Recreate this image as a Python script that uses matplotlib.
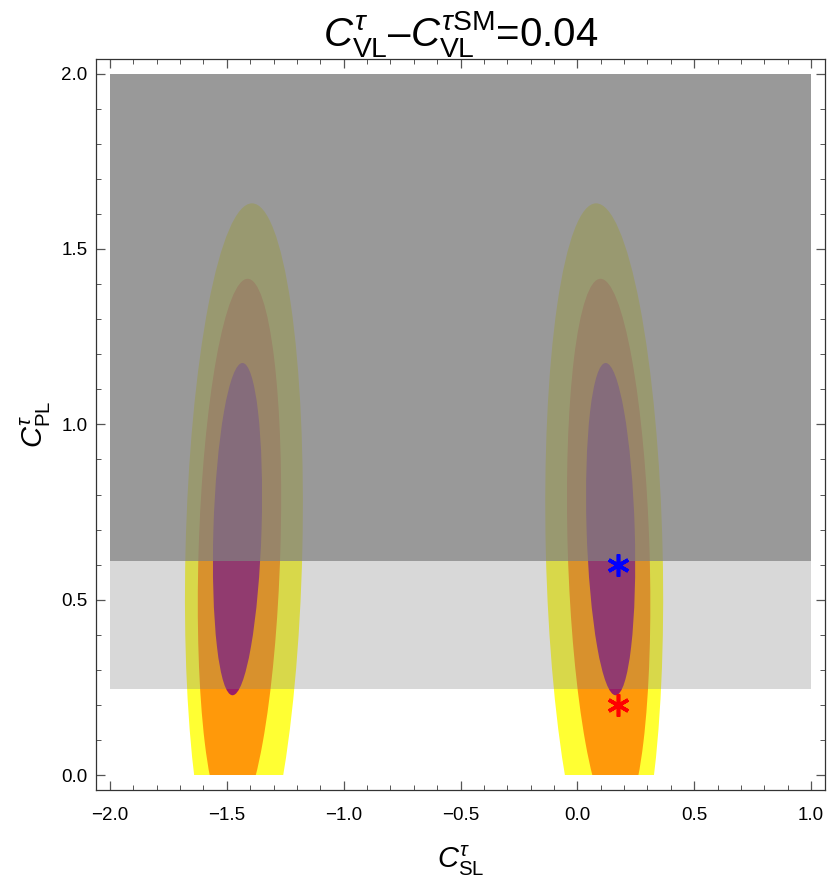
import math

import matplotlib
matplotlib.use("Agg")
import matplotlib.pyplot as plt
from matplotlib.patches import Ellipse, Rectangle
from matplotlib.transforms import Affine2D
from matplotlib.ticker import MultipleLocator

plt.rcParams["font.family"] = ["Liberation Sans", "DejaVu Sans"]
plt.rcParams["mathtext.fontset"] = "custom"
plt.rcParams["mathtext.rm"] = "Liberation Sans"
plt.rcParams["mathtext.it"] = "Liberation Sans:italic"
plt.rcParams["mathtext.bf"] = "Liberation Sans:bold"

# allowed regions (3 sigma, 2 sigma, 1 sigma), one group per solution
region_colors = [(1.0, 1.0, 0.0), (1.0, 0.5, 0.0), (0.5, 0.0, 0.5)]
center_x_left = [-1.427, -1.446, -1.4545]
center_x_right = [0.115, 0.134, 0.1425]
center_y = [0.64, 0.64, 0.7015]
half_width = [0.25, 0.175, 0.103]
half_height = [0.99, 0.775, 0.4735]
tilt_left = [0.035, 0.045, 0.045]
tilt_right = [-0.035, -0.045, -0.045]

# excluded bands (x range, y range, opacity)
band_x = [-2.0, 1.0]
band_y_low = [0.611, 0.247]
band_y_high = [2.0, 0.611]
band_alpha = [0.8, 0.3]

# benchmark points
point_x = [0.173, 0.173]
point_y = [0.60, 0.20]
point_colors = ["blue", "red"]

fig = plt.figure(figsize=(8.32, 8.81), dpi=100)
ax = fig.add_axes([0.1154, 0.1033, 0.8762, 0.8292])

ax.set_xlim(-2.06, 1.06)
ax.set_ylim(-0.042, 2.04)

clip = Rectangle((band_x[0], 0.0), band_x[1] - band_x[0], 2.0,
                 transform=ax.transData)

for centers, tilts in [(center_x_left, tilt_left), (center_x_right, tilt_right)]:
    for i in range(len(region_colors)):
        tr = (Affine2D().skew(math.atan(tilts[i]), 0)
              .translate(centers[i], center_y[i]) + ax.transData)
        e = Ellipse((0, 0), 2 * half_width[i], 2 * half_height[i],
                    facecolor=region_colors[i], edgecolor="none",
                    alpha=0.8, transform=tr, zorder=1)
        ax.add_patch(e)
        e.set_clip_path(clip)

for lo, hi, a in zip(band_y_low, band_y_high, band_alpha):
    ax.add_patch(Rectangle((band_x[0], lo), band_x[1] - band_x[0], hi - lo,
                           facecolor=(0.5, 0.5, 0.5), edgecolor="none",
                           alpha=a, zorder=2))

for px, py, c in zip(point_x, point_y, point_colors):
    ax.plot(px, py, marker=(6, 2, 0), markersize=16, markeredgewidth=2.6,
            color=c, linestyle="none", zorder=3)

ax.xaxis.set_major_locator(MultipleLocator(0.5))
ax.xaxis.set_minor_locator(MultipleLocator(0.1))
ax.yaxis.set_major_locator(MultipleLocator(0.5))
ax.yaxis.set_minor_locator(MultipleLocator(0.1))
ax.tick_params(which="both", direction="in", top=True, right=True,
               color="#555555", labelsize=13.5)
ax.tick_params(which="major", length=6.5, width=0.9)
ax.tick_params(which="minor", length=3.6, width=0.7)
ax.tick_params(axis="x", pad=12)
ax.tick_params(axis="y", pad=6)
for sp in ax.spines.values():
    sp.set_color("#333333")
    sp.set_linewidth(0.9)

ax.set_xlabel(r"$C^{\tau}_{\rm SL}$", fontsize=21, labelpad=14)
ax.set_ylabel(r"$C^{\tau}_{\rm PL}$", fontsize=21, labelpad=6)
ax.set_title(r"$C^{\tau}_{\rm VL}$" + "\u2013" + r"$C^{\tau{\rm SM}}_{\rm VL}$" + "=0.04",
             fontsize=29, pad=5)

fig.savefig("out.png", dpi=100)
